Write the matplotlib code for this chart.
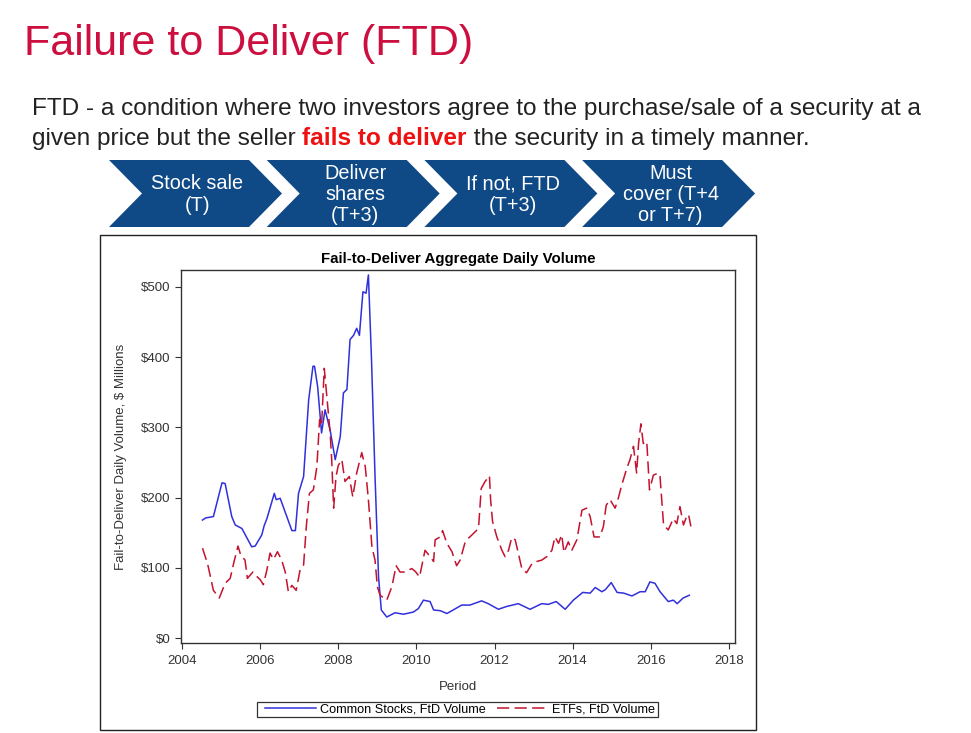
import numpy as np
import matplotlib.pyplot as plt
from matplotlib.patches import Polygon, Rectangle

plt.rcParams['font.family'] = ['Liberation Sans', 'DejaVu Sans']

# common stocks, FtD volume ($ millions)
stock_year = [2004.52, 2004.60, 2004.80, 2005.02, 2005.10, 2005.27, 2005.36, 2005.53, 2005.78, 2005.87,
              2006.04, 2006.10, 2006.17, 2006.36, 2006.41, 2006.51, 2006.68, 2006.81, 2006.90, 2006.98,
              2007.11, 2007.24, 2007.35, 2007.39, 2007.47, 2007.57, 2007.66, 2007.79, 2007.92,
              2008.05, 2008.13, 2008.22, 2008.30, 2008.39, 2008.47, 2008.54, 2008.63, 2008.71,
              2008.77, 2008.85, 2008.94, 2009.03, 2009.10, 2009.24, 2009.45, 2009.67, 2009.92, 2010.05,
              2010.18, 2010.35, 2010.44, 2010.61, 2010.78, 2010.91, 2011.16, 2011.37, 2011.67,
              2011.84, 2012.10, 2012.31, 2012.61, 2012.91, 2013.21, 2013.38, 2013.58, 2013.81,
              2014.02, 2014.26, 2014.45, 2014.58, 2014.75, 2014.84, 2014.99, 2015.14, 2015.31,
              2015.52, 2015.73, 2015.86, 2015.98, 2016.11, 2016.24, 2016.45, 2016.58, 2016.68,
              2016.83, 2016.99]
stock_vol = [168, 171, 173, 221, 220, 173, 161, 156, 130, 131,
             147, 160, 170, 206, 197, 199, 173, 153, 153, 206,
             230, 339, 387, 387, 358, 292, 325, 296, 254,
             287, 349, 354, 425, 431, 441, 431, 493, 491,
             517, 396, 230, 87, 40, 30, 36, 34, 37, 42,
             54, 52, 40, 39, 35, 39, 47, 47, 53,
             49, 41, 45, 49, 41, 49, 48, 52, 41,
             54, 65, 64, 72, 66, 69, 79, 65, 64,
             60, 66, 66, 80, 78, 66, 52, 54, 49,
             57, 61]

# ETFs, FtD volume ($ millions)
etf_year = [2004.52, 2004.65, 2004.80, 2004.95, 2005.10, 2005.23, 2005.33, 2005.43, 2005.50,
            2005.61, 2005.67, 2005.81, 2005.89, 2006.00, 2006.08, 2006.17, 2006.25, 2006.34,
            2006.44, 2006.55, 2006.64, 2006.72, 2006.81, 2006.92, 2007.02, 2007.11, 2007.18,
            2007.26, 2007.36, 2007.45, 2007.52, 2007.57, 2007.64, 2007.72, 2007.79, 2007.83,
            2007.88, 2007.94, 2008.00, 2008.09, 2008.17, 2008.28, 2008.37, 2008.47, 2008.60,
            2008.69, 2008.77, 2008.86, 2008.94, 2009.00, 2009.07, 2009.24, 2009.37, 2009.48,
            2009.58, 2009.71, 2009.88, 2009.97, 2010.08, 2010.22, 2010.35, 2010.44, 2010.48,
            2010.61, 2010.67, 2010.78, 2010.91, 2011.03, 2011.12, 2011.25, 2011.33, 2011.50,
            2011.59, 2011.66, 2011.76, 2011.87, 2011.90, 2011.95, 2012.06, 2012.19, 2012.27,
            2012.36, 2012.44, 2012.53, 2012.61, 2012.70, 2012.82, 2012.96, 2013.08, 2013.21,
            2013.34, 2013.47, 2013.55, 2013.64, 2013.72, 2013.78, 2013.89, 2013.98, 2014.11,
            2014.24, 2014.36, 2014.45, 2014.55, 2014.70, 2014.79, 2014.86, 2014.96, 2015.09,
            2015.17, 2015.26, 2015.39, 2015.47, 2015.56, 2015.64, 2015.69, 2015.75, 2015.81,
            2015.90, 2015.97, 2016.07, 2016.20, 2016.24, 2016.33, 2016.45, 2016.58, 2016.67,
            2016.75, 2016.84, 2016.92, 2016.97, 2017.03]
etf_vol = [128, 106, 68, 57, 78, 85, 109, 131, 118,
           111, 85, 94, 89, 83, 76, 97, 121, 112,
           123, 111, 94, 66, 75, 68, 97, 104, 159,
           206, 211, 244, 311, 302, 384, 334, 292, 254,
           185, 230, 246, 254, 223, 230, 201, 235, 264,
           244, 197, 130, 111, 73, 61, 54, 73, 103,
           94, 94, 99, 95, 87, 125, 116, 109, 140,
           144, 153, 135, 123, 103, 111, 137, 142, 151,
           156, 213, 223, 231, 197, 166, 144, 125, 116,
           125, 143, 140, 121, 99, 93, 106, 109, 111,
           116, 125, 144, 135, 147, 122, 137, 125, 140,
           182, 185, 173, 144, 144, 159, 189, 197, 185,
           199, 218, 242, 254, 273, 235, 277, 305, 277,
           280, 211, 232, 235, 230, 161, 154, 170, 163,
           187, 161, 173, 176, 159]

steps = ['Stock sale\n(T)', 'Deliver\nshares\n(T+3)', 'If not, FTD\n(T+3)', 'Must\ncover (T+4\nor T+7)']

W, H = 971, 733
fig = plt.figure(figsize=(W / 100, H / 100), dpi=100)

# page layer in pixel coordinates
page = fig.add_axes([0, 0, 1, 1], zorder=0)
page.set_xlim(0, W)
page.set_ylim(H, 0)
page.axis('off')

page.text(24, 44, 'Failure to Deliver (FTD)', color='#CC0F3E', fontsize=31,
          va='center', ha='left')

body_kw = dict(fontsize=17.6, va='baseline', ha='left', color='#222222')
page.text(32, 115, 'FTD - a condition where two investors agree to the purchase/sale of a security at a',
          **body_kw)
renderer = fig.canvas.get_renderer()
t1 = page.text(32, 145, 'given price but the seller ', **body_kw)
bb = t1.get_window_extent(renderer)
x2 = page.transData.inverted().transform((bb.x1, 0))[0]
t2 = page.text(x2, 145, 'fails to deliver', **dict(body_kw, color='#EE1111', fontweight='bold'))
bb = t2.get_window_extent(renderer)
x3 = page.transData.inverted().transform((bb.x1, 0))[0]
page.text(x3, 145, ' the security in a timely manner.', **body_kw)

# process chevrons
x0, step, top, bot, depth, width = 109, 157.7, 160, 227, 33, 140
mid = (top + bot) / 2
for i, label in enumerate(steps):
    left = x0 + i * step
    pts = [(left, top), (left + width, top), (left + width + depth, mid),
           (left + width, bot), (left, bot), (left + depth, mid)]
    page.add_patch(Polygon(pts, closed=True, facecolor='#0F4A86', edgecolor='none'))
    page.text(left + depth / 2 + width / 2 + 2, mid + 1, label, color='white', fontsize=14.3,
              ha='center', va='center', linespacing=1.15)

# chart box and legend frame
page.add_patch(Rectangle((100, 235), 656, 495, facecolor='white', edgecolor='#222222', lw=1))
page.add_patch(Rectangle((257, 702), 401, 15, facecolor='none', edgecolor='#333333', lw=0.9))

ax = fig.add_axes([181 / W, (H - 643) / H, (735 - 181) / W, (643 - 270) / H], zorder=2)
ax.plot(stock_year, stock_vol, color='#3030DC', lw=1.1, label='Common Stocks, FtD Volume')
ax.plot(etf_year, etf_vol, color='#C4122F', lw=1.1, dashes=(8, 3.5), label='ETFs, FtD Volume')
ax.set_xlim(2003.97, 2018.16)
ax.set_ylim(-7, 524)
ax.set_xticks(np.arange(2004, 2019, 2))
ax.set_yticks(np.arange(0, 501, 100))
ax.set_yticklabels(['$%d' % v for v in range(0, 501, 100)])
ax.tick_params(axis='both', labelsize=9.5, colors='#333333', length=4, width=0.8)
ax.tick_params(axis='x', pad=5)
for s in ax.spines.values():
    s.set_color('#333333')
    s.set_linewidth(1)
ax.set_title('Fail-to-Deliver Aggregate Daily Volume', fontsize=10.8, fontweight='bold', pad=5)
ax.set_xlabel('Period', fontsize=9.5, color='#333333', labelpad=10)
ax.set_ylabel('Fail-to-Deliver Daily Volume, $ Millions', fontsize=9.5, color='#333333', labelpad=10)

ax.legend(loc='center left', bbox_to_anchor=(265 / W, 1 - 709.5 / H), bbox_transform=fig.transFigure,
          ncol=2, frameon=False, fontsize=9.1, handlelength=4, handletextpad=0.32,
          columnspacing=0.95, borderpad=0, borderaxespad=0)

fig.savefig('out.png', dpi=100)
